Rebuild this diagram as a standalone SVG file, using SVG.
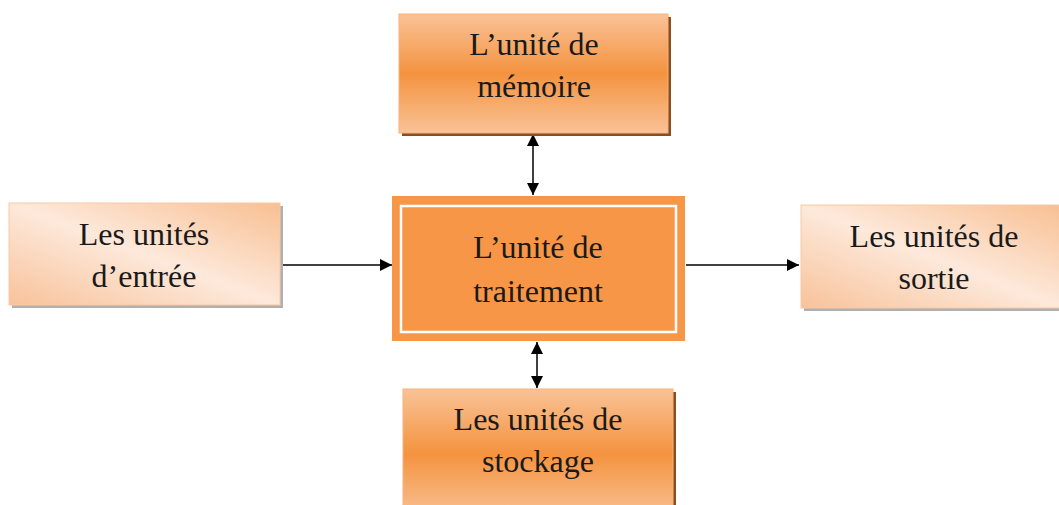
<svg xmlns="http://www.w3.org/2000/svg" width="1059" height="505" viewBox="0 0 1059 505">
<defs>
<linearGradient id="gv" x1="0" y1="0" x2="0" y2="1">
<stop offset="0" stop-color="#f9c297"/>
<stop offset="0.5" stop-color="#f4933f"/>
<stop offset="1" stop-color="#f9c297"/>
</linearGradient>
<linearGradient id="gd" x1="0" y1="1" x2="1" y2="0">
<stop offset="0" stop-color="#f8c29a"/>
<stop offset="0.5" stop-color="#fde9db"/>
<stop offset="1" stop-color="#f8bf92"/>
</linearGradient>
<marker id="ah" viewBox="0 0 12 12" refX="12" refY="6" markerWidth="12" markerHeight="12" markerUnits="userSpaceOnUse" orient="auto-start-reverse">
<path d="M0,0 L12,6 L0,12 Z" fill="#000"/>
</marker>
<style>
text{font-family:"Liberation Serif","Times New Roman",serif;font-size:32px;fill:#1a1a1a;text-anchor:middle}
.c{stroke:#000;stroke-width:1.5;fill:none}
</style>
</defs>
<rect width="1059" height="505" fill="#fff"/>
<g id="connectors">
<line class="c" x1="533" y1="134" x2="533" y2="195" marker-start="url(#ah)" marker-end="url(#ah)"/>
<line class="c" x1="537" y1="342" x2="537" y2="388" marker-start="url(#ah)" marker-end="url(#ah)"/>
<line class="c" x1="281" y1="265" x2="392" y2="265" marker-end="url(#ah)"/>
<line class="c" x1="686" y1="265" x2="799" y2="265" marker-end="url(#ah)"/>
</g>
<g id="memoire">
<rect x="402" y="17" width="269" height="119" fill="#8a4f1e"/>
<rect x="399" y="14" width="269" height="119" fill="url(#gv)" stroke="#f8b27a" stroke-width="1"/>
<text x="534" y="55">L’unité de</text>
<text x="534" y="97">mémoire</text>
</g>
<g id="entree">
<rect x="12" y="206" width="271" height="102" fill="#b0b0b0"/>
<rect x="9" y="203" width="271" height="102" fill="url(#gd)" stroke="#f8c9a3" stroke-width="1"/>
<text x="144" y="245">Les unités</text>
<text x="144" y="287">d’entrée</text>
</g>
<g id="traitement">
<rect x="392" y="196" width="293" height="145" fill="#f79646"/>
<rect x="401" y="206" width="275" height="126" fill="none" stroke="#fff" stroke-width="2.5"/>
<text x="538" y="258">L’unité de</text>
<text x="538" y="302">traitement</text>
</g>
<g id="sortie">
<rect x="804" y="208" width="262" height="103" fill="#b0b0b0"/>
<rect x="801" y="205" width="262" height="103" fill="url(#gd)" stroke="#f8c9a3" stroke-width="1"/>
<text x="934" y="247">Les unités de</text>
<text x="934" y="289">sortie</text>
</g>
<g id="stockage">
<rect x="406" y="392" width="270" height="130" fill="#8a4f1e"/>
<rect x="403" y="389" width="270" height="130" fill="url(#gv)" stroke="#f8b27a" stroke-width="1"/>
<text x="538" y="430">Les unités de</text>
<text x="538" y="472">stockage</text>
</g>
</svg>
